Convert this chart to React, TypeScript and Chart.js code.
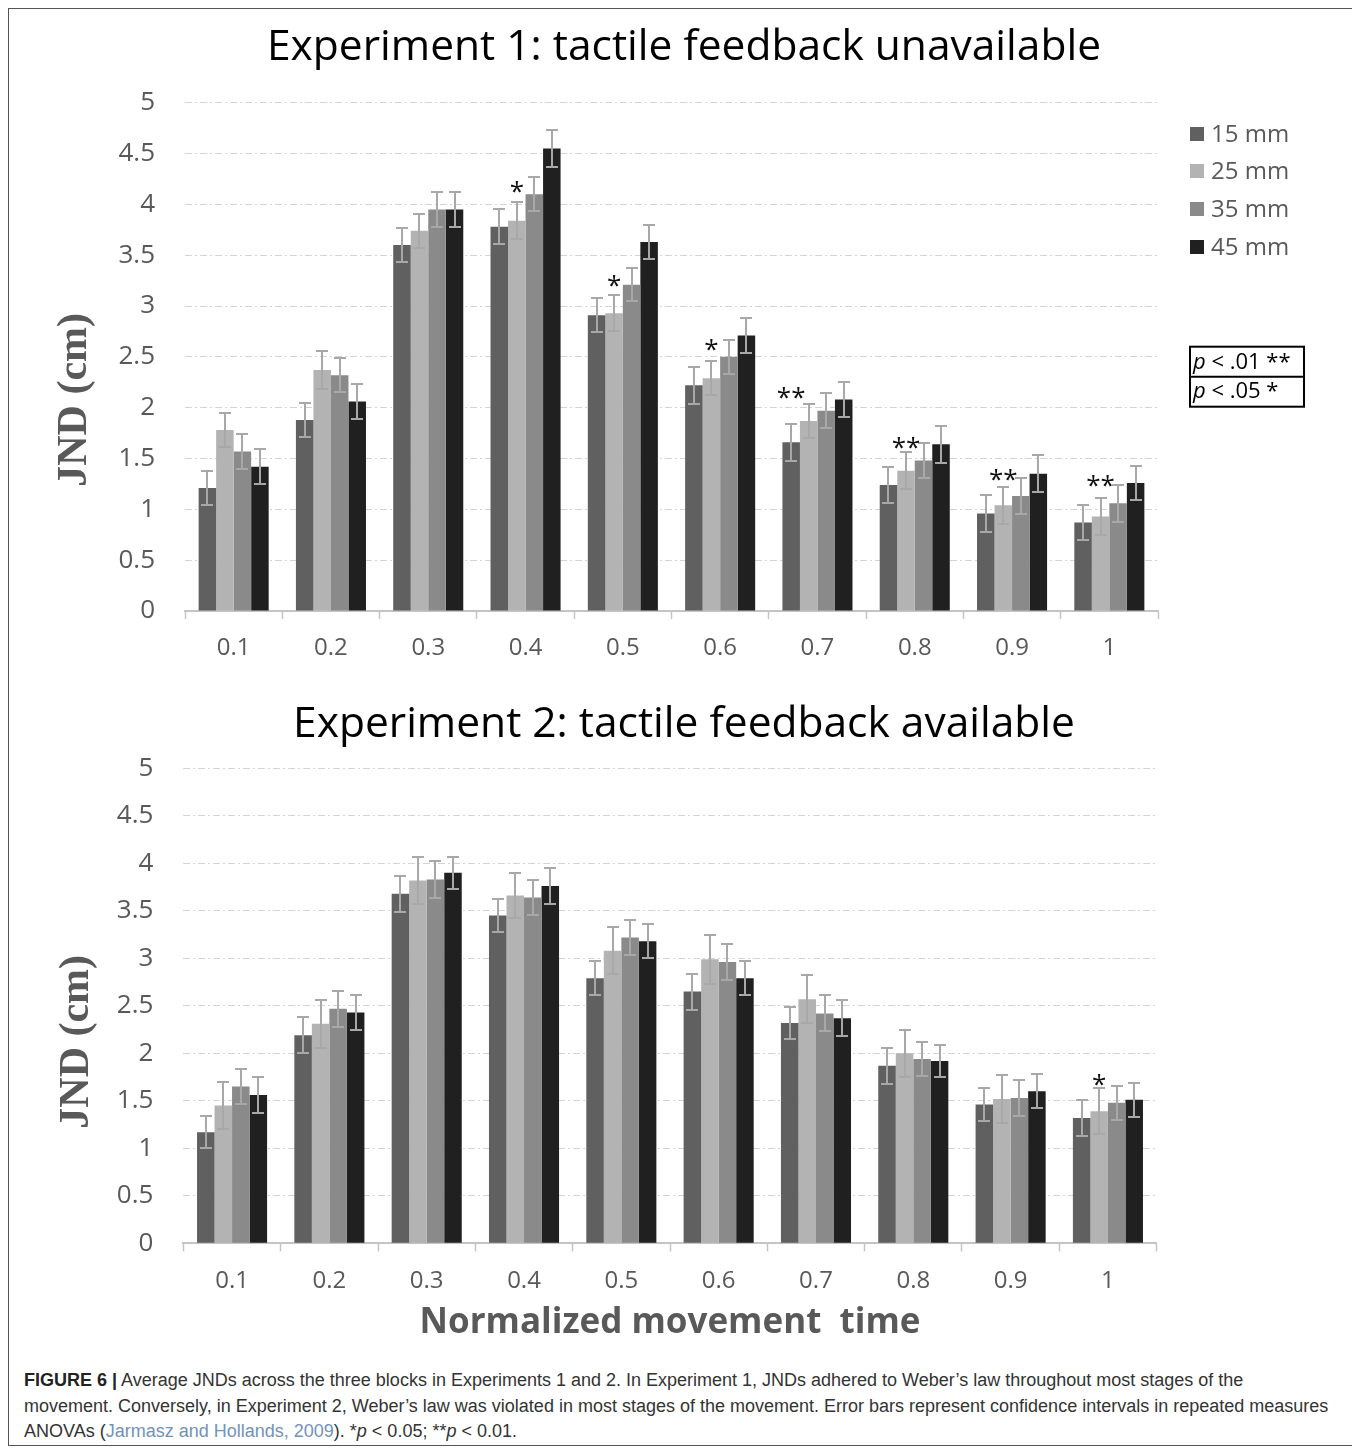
import React, { useEffect, useRef } from 'react';
import { Chart, registerables } from 'chart.js';

Chart.register(...registerables);

// ---------- data ----------
const categories = ['0.1', '0.2', '0.3', '0.4', '0.5', '0.6', '0.7', '0.8', '0.9', '1'];
const seriesNames = ['15 mm', '25 mm', '35 mm', '45 mm'];
const seriesColors = ['#606060', '#b3b3b3', '#8a8a8a', '#202020'];

const exp1Title = 'Experiment 1: tactile feedback unavailable';
const exp2Title = 'Experiment 2: tactile feedback available';
const yAxisTitle = 'JND (cm)';
const xAxisTitle = 'Normalized movement  time';

// Experiment 1 means and CI half-widths
const exp1Mm15 = [1.21, 1.88, 3.6, 3.78, 2.91, 2.22, 1.66, 1.24, 0.96, 0.87];
const exp1Mm25 = [1.78, 2.37, 3.74, 3.84, 2.93, 2.29, 1.87, 1.38, 1.04, 0.93];
const exp1Mm35 = [1.57, 2.32, 3.95, 4.1, 3.21, 2.5, 1.97, 1.48, 1.13, 1.06];
const exp1Mm45 = [1.42, 2.06, 3.95, 4.55, 3.63, 2.71, 2.08, 1.64, 1.35, 1.26];
const exp1Err15 = [0.17, 0.17, 0.17, 0.17, 0.17, 0.18, 0.18, 0.18, 0.18, 0.17];
const exp1Err25 = [0.17, 0.19, 0.17, 0.18, 0.18, 0.17, 0.17, 0.18, 0.18, 0.18];
const exp1Err35 = [0.17, 0.17, 0.17, 0.17, 0.16, 0.17, 0.17, 0.17, 0.18, 0.18];
const exp1Err45 = [0.17, 0.17, 0.17, 0.18, 0.17, 0.17, 0.17, 0.18, 0.18, 0.17];

// Experiment 2 means and CI half-widths
const exp2Mm15 = [1.17, 2.19, 3.68, 3.45, 2.79, 2.65, 2.32, 1.87, 1.46, 1.32];
const exp2Mm25 = [1.45, 2.31, 3.82, 3.66, 3.08, 2.99, 2.57, 2.0, 1.52, 1.39];
const exp2Mm35 = [1.65, 2.47, 3.83, 3.64, 3.22, 2.96, 2.42, 1.94, 1.53, 1.48];
const exp2Mm45 = [1.56, 2.43, 3.9, 3.76, 3.18, 2.79, 2.37, 1.92, 1.6, 1.51];
const exp2Err15 = [0.17, 0.19, 0.19, 0.17, 0.18, 0.19, 0.17, 0.19, 0.17, 0.19];
const exp2Err25 = [0.25, 0.25, 0.25, 0.24, 0.25, 0.26, 0.25, 0.25, 0.25, 0.24];
const exp2Err35 = [0.18, 0.19, 0.19, 0.18, 0.18, 0.19, 0.19, 0.18, 0.19, 0.18];
const exp2Err45 = [0.19, 0.18, 0.17, 0.19, 0.18, 0.18, 0.19, 0.17, 0.18, 0.18];

// significance marks: category, series the mark sits over, mark, height (cm)
const exp1Marks = [
  { cat: '0.4', series: 1, mark: '*', at: 4.19 },
  { cat: '0.5', series: 1, mark: '*', at: 3.27 },
  { cat: '0.6', series: 1, mark: '*', at: 2.64 },
  { cat: '0.7', series: 0, mark: '**', at: 2.16 },
  { cat: '0.8', series: 1, mark: '**', at: 1.67 },
  { cat: '0.9', series: 1, mark: '**', at: 1.36 },
  { cat: '1', series: 1, mark: '**', at: 1.3 },
];
const exp2Marks = [{ cat: '1', series: 1, mark: '*', at: 1.74 }];

const pKeyRows = [
  { p: 'p', rest: ' < .01 **' },
  { p: 'p', rest: ' < .05 *' },
];

// ---------- plugin ----------
const decorPlugin = {
  id: 'decor',
  afterDatasetsDraw(chart: any) {
    const ctx = chart.ctx;
    const ys = chart.scales.y;
    ctx.save();
    ctx.strokeStyle = '#a8a8a8';
    ctx.lineWidth = 2;
    chart.data.datasets.forEach((ds: any, i: number) => {
      const meta = chart.getDatasetMeta(i);
      meta.data.forEach((bar: any, j: number) => {
        const v = ds.data[j];
        const e = ds.errors[j];
        const top = Math.round(ys.getPixelForValue(v + e));
        const bot = Math.round(ys.getPixelForValue(v - e));
        const x = Math.round(bar.x);
        ctx.beginPath();
        ctx.moveTo(x, top);
        ctx.lineTo(x, bot);
        ctx.moveTo(x - 6, top);
        ctx.lineTo(x + 6, top);
        ctx.moveTo(x - 6, bot);
        ctx.lineTo(x + 6, bot);
        ctx.stroke();
      });
    });
    ctx.restore();
  },
  afterDraw(chart: any, _args: any, opts: any) {
    const ctx = chart.ctx;
    const area = chart.chartArea;
    const ys = chart.scales.y;
    ctx.save();
    // chart title, centred on the figure
    ctx.fillStyle = '#000';
    ctx.font = "42.5px 'Open Sans'";
    ctx.textAlign = 'center';
    ctx.textBaseline = 'alphabetic';
    ctx.fillText(opts.title, chart.width / 2 + 2, opts.titleBaseline);
    // significance marks
    ctx.fillStyle = '#111';
    ctx.font = "26px 'Open Sans'";
    ctx.textAlign = 'center';
    ctx.textBaseline = 'alphabetic';
    (opts.marks || []).forEach((m: any) => {
      const j = chart.data.labels.indexOf(m.cat);
      const bar = chart.getDatasetMeta(m.series).data[j];
      const y = ys.getPixelForValue(m.at);
      ctx.fillText(m.mark, bar.x, y + 15);
    });
    // y axis title
    ctx.save();
    ctx.translate(area.left + opts.yTitleDx, (area.top + area.bottom) / 2 + opts.yTitleDy);
    ctx.rotate(-Math.PI / 2);
    ctx.fillStyle = '#595959';
    ctx.font = "bold 42px 'Liberation Serif'";
    ctx.textAlign = 'center';
    ctx.textBaseline = 'middle';
    ctx.fillText(opts.yTitle, 0, 0);
    ctx.restore();
    // legend
    if (opts.legend) {
      chart.data.datasets.forEach((ds: any, i: number) => {
        const cy = area.top + 31 + i * 37.7;
        ctx.fillStyle = ds.backgroundColor;
        ctx.fillRect(area.right + 32, Math.round(cy - 7), 14, 14);
        ctx.fillStyle = '#595959';
        ctx.font = "24px 'Open Sans'";
        ctx.textAlign = 'left';
        ctx.textBaseline = 'middle';
        ctx.fillText(ds.label, area.right + 53, cy + 1);
      });
    }
    // p-value key
    if (opts.pKey) {
      const x0 = area.right + 32;
      const x1 = area.right + 146;
      const t0 = area.top + 244;
      const mid = area.top + 274;
      const b0 = area.top + 304;
      ctx.strokeStyle = '#000';
      ctx.lineWidth = 2;
      ctx.strokeRect(x0, t0, x1 - x0, b0 - t0);
      ctx.beginPath();
      ctx.moveTo(x0, mid);
      ctx.lineTo(x1, mid);
      ctx.stroke();
      ctx.fillStyle = '#000';
      ctx.textAlign = 'left';
      ctx.textBaseline = 'alphabetic';
      opts.pKey.forEach((row: any, i: number) => {
        const by = area.top + 266 + i * 29;
        ctx.font = "italic 22px 'Open Sans'";
        ctx.fillText(row.p, x0 + 3, by);
        const w = ctx.measureText(row.p).width;
        ctx.font = "22px 'Open Sans'";
        ctx.fillText(row.rest, x0 + 3 + w, by);
      });
    }
    ctx.restore();
  },
};

type PanelProps = {
  title: string;
  titleBaseline: number;
  series: number[][];
  errors: number[][];
  marks: any[];
  top: number;
  height: number;
  padTop: number;
  yWidth: number;
  padRight: number;
  xHeight: number;
  xTitle?: string;
  xTitlePadBottom?: number;
  legend?: boolean;
  pKey?: any[];
  yTitleDx: number;
  yTitleDy: number;
};

function Panel(p: PanelProps) {
  const ref = useRef<HTMLCanvasElement>(null);
  useEffect(() => {
    const chart = new Chart(ref.current as HTMLCanvasElement, {
      type: 'bar',
      data: {
        labels: categories,
        datasets: p.series.map((vals, i) => ({
          label: seriesNames[i],
          data: vals,
          errors: p.errors[i],
          backgroundColor: seriesColors[i],
          borderWidth: 0,
          categoryPercentage: 0.72,
          barPercentage: 1,
        })) as any,
      },
      options: {
        animation: false,
        responsive: false,
        maintainAspectRatio: false,
        layout: { padding: { left: 0, right: p.padRight, top: p.padTop, bottom: 0 } },
        plugins: {
          legend: { display: false },
          tooltip: { enabled: false },
          title: { display: false },
          decor: {
            title: p.title,
            titleBaseline: p.titleBaseline,
            marks: p.marks,
            legend: !!p.legend,
            pKey: p.pKey,
            yTitle: yAxisTitle,
            yTitleDx: p.yTitleDx,
            yTitleDy: p.yTitleDy,
          },
        } as any,
        scales: {
          x: {
            grid: {
              display: true,
              drawOnChartArea: false,
              drawTicks: true,
              tickLength: 8,
              tickColor: '#c4c4c4',
              tickWidth: 1.5,
              offset: true,
            },
            border: { display: true, color: '#c4c4c4', width: 2 },
            ticks: {
              color: '#595959',
              font: { family: "'Open Sans'", size: 24 },
              padding: 15,
              maxRotation: 0,
            },
            title: p.xTitle
              ? {
                  display: true,
                  text: p.xTitle,
                  color: '#595959',
                  font: { family: "'Open Sans'", size: 35, weight: 'bold' as any, lineHeight: 1.2 },
                  padding: { top: 0, bottom: p.xTitlePadBottom || 0 },
                }
              : { display: false },
            afterFit: (s: any) => {
              s.height = p.xHeight;
            },
          },
          y: {
            min: 0,
            max: 5,
            ticks: {
              stepSize: 0.5,
              color: '#595959',
              font: { family: "'Open Sans'", size: 26 },
              padding: 30,
              callback: (v: any) => String(Number(v)),
            },
            grid: {
              color: '#d4d4d4',
              lineWidth: 1,
              drawTicks: false,
            },
            border: { display: false, dash: [7, 3, 2, 3] },
            afterFit: (s: any) => {
              s.width = p.yWidth;
            },
          },
        } as any,
      },
      plugins: [decorPlugin as any],
    });
    return () => chart.destroy();
  }, []);
  return (
    <canvas
      ref={ref}
      width={1346}
      height={p.height}
      style={{ position: 'absolute', left: 0, top: p.top, width: 1346, height: p.height }}
    />
  );
}

export default function App() {
  return (
    <div
      style={{
        position: 'relative',
        width: 1346,
        height: 1436,
        border: '1px solid #555',
        background: '#fff',
      }}
    >
      <Panel
        title={exp1Title}
        titleBaseline={51}
        series={[exp1Mm15, exp1Mm25, exp1Mm35, exp1Mm45]}
        errors={[exp1Err15, exp1Err25, exp1Err35, exp1Err45]}
        marks={exp1Marks}
        top={0}
        height={680}
        padTop={93.7}
        yWidth={176}
        padRight={197}
        xHeight={78}
        legend
        pKey={pKeyRows}
        yTitleDx={-110}
        yTitleDy={43}
      />
      <Panel
        title={exp2Title}
        titleBaseline={47}
        series={[exp2Mm15, exp2Mm25, exp2Mm35, exp2Mm45]}
        errors={[exp2Err15, exp2Err25, exp2Err35, exp2Err45]}
        marks={exp2Marks}
        top={681}
        height={670}
        padTop={78.3}
        yWidth={174.4}
        padRight={198.4}
        xHeight={116.7}
        xTitle={xAxisTitle}
        xTitlePadBottom={16.4}
        yTitleDx={-106}
        yTitleDy={36}
      />
      <div
        style={{
          position: 'absolute',
          left: 15,
          top: 1359,
          fontFamily: "'Liberation Sans', Arial, sans-serif",
          fontSize: 18,
          lineHeight: '25.5px',
          color: '#333',
          whiteSpace: 'nowrap',
        }}
      >
        <b style={{ color: '#222' }}>FIGURE 6 |</b> Average JNDs across the three blocks in Experiments 1 and 2. In
        Experiment 1, JNDs adhered to Weber’s law throughout most stages of the
        <br />
        movement. Conversely, in Experiment 2, Weber’s law was violated in most stages of the movement. Error bars
        represent confidence intervals in repeated measures
        <br />
        ANOVAs (<span style={{ color: '#7193b8' }}>Jarmasz and Hollands, 2009</span>). *<i>p</i> &lt; 0.05; **
        <i>p</i> &lt; 0.01.
      </div>
    </div>
  );
}
